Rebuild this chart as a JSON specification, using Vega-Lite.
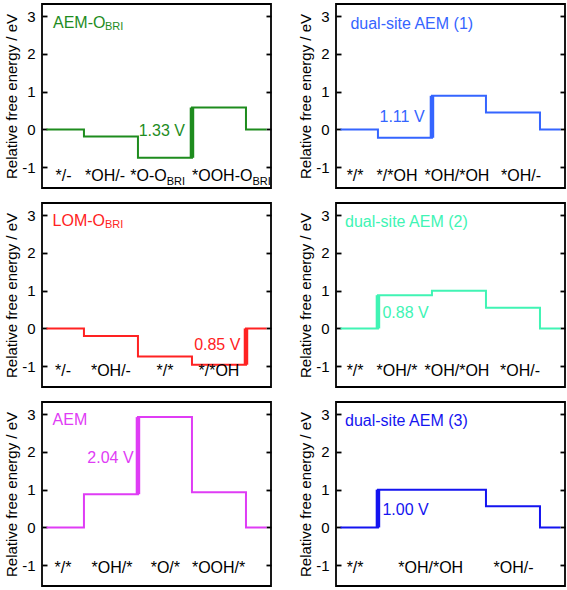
{
"$schema": "https://vega.github.io/schema/vega-lite/v6.json",
"padding": {"left": 3, "top": 3, "right": 3, "bottom": 3},
"background": "white",
"data": {"values": [
{"p":1,"k":"line","x":0.25,"y":0},{"p":1,"k":"line","x":2.33,"y":-0.19},{"p":1,"k":"line","x":5.33,"y":-0.75},{"p":1,"k":"line","x":8.33,"y":0.58},{"p":1,"k":"line","x":11.33,"y":0},{"p":1,"k":"line","x":12.47,"y":0},
{"p":1,"k":"thick","x":8.33,"y":-0.75,"y2":0.58},
{"p":1,"k":"title","x":0.61,"y":2.83,"t":"AEM-O"},{"p":1,"k":"tsub","x":3.5,"y":2.72,"t":"BRI"},
{"p":1,"k":"voltR","x":7.94,"y":-0.04,"t":"1.33 V"},
{"p":1,"k":"state","x":1.2,"y":-1.36,"t":"*/-"},{"p":1,"k":"state","x":3.5,"y":-1.36,"t":"*OH/-"},
{"p":1,"k":"stateL","x":4.9,"y":-1.36,"t":"*O-O"},{"p":1,"k":"ssub","x":6.93,"y":-1.47,"t":"BRI"},
{"p":1,"k":"stateL","x":8.33,"y":-1.36,"t":"*OOH-O"},{"p":1,"k":"ssub","x":11.69,"y":-1.47,"t":"BRI"},

{"p":2,"k":"line","x":0.25,"y":0},{"p":2,"k":"line","x":2.33,"y":-0.22},{"p":2,"k":"line","x":5.33,"y":0.89},{"p":2,"k":"line","x":8.33,"y":0.45},{"p":2,"k":"line","x":11.33,"y":0},{"p":2,"k":"line","x":12.47,"y":0},
{"p":2,"k":"thick","x":5.33,"y":-0.22,"y2":0.89},
{"p":2,"k":"title","x":0.8,"y":2.79,"t":"dual-site AEM (1)"},
{"p":2,"k":"voltR","x":4.92,"y":0.34,"t":"1.11 V"},
{"p":2,"k":"state","x":1.06,"y":-1.36,"t":"*/*"},{"p":2,"k":"state","x":3.39,"y":-1.36,"t":"*/*OH"},{"p":2,"k":"state","x":6.72,"y":-1.36,"t":"*OH/*OH"},{"p":2,"k":"state","x":10.28,"y":-1.36,"t":"*OH/-"},

{"p":3,"k":"line","x":0.25,"y":0},{"p":3,"k":"line","x":2.33,"y":-0.2},{"p":3,"k":"line","x":5.33,"y":-0.74},{"p":3,"k":"line","x":8.33,"y":-0.96},{"p":3,"k":"line","x":11.33,"y":0},{"p":3,"k":"line","x":12.47,"y":0},
{"p":3,"k":"thick","x":11.33,"y":-0.96,"y2":0},
{"p":3,"k":"title","x":0.59,"y":2.84,"t":"LOM-O"},{"p":3,"k":"tsub","x":3.5,"y":2.74,"t":"BRI"},
{"p":3,"k":"voltR","x":11.02,"y":-0.44,"t":"0.85 V"},
{"p":3,"k":"state","x":1.17,"y":-1.26,"t":"*/-"},{"p":3,"k":"state","x":3.83,"y":-1.26,"t":"*OH/-"},{"p":3,"k":"state","x":6.83,"y":-1.26,"t":"*/*"},{"p":3,"k":"state","x":9.83,"y":-1.26,"t":"*/*OH"},

{"p":4,"k":"line","x":0.25,"y":0},{"p":4,"k":"line","x":2.33,"y":0.88},{"p":4,"k":"line","x":5.33,"y":1.0},{"p":4,"k":"line","x":8.33,"y":0.55},{"p":4,"k":"line","x":11.33,"y":0},{"p":4,"k":"line","x":12.47,"y":0},
{"p":4,"k":"thick","x":2.33,"y":0,"y2":0.88},
{"p":4,"k":"title","x":0.5,"y":2.81,"t":"dual-site AEM (2)"},
{"p":4,"k":"voltL","x":2.58,"y":0.4,"t":"0.88 V"},
{"p":4,"k":"state","x":1.06,"y":-1.26,"t":"*/*"},{"p":4,"k":"state","x":3.39,"y":-1.26,"t":"*OH/*"},{"p":4,"k":"state","x":6.72,"y":-1.26,"t":"*OH/*OH"},{"p":4,"k":"state","x":10.22,"y":-1.26,"t":"*OH/-"},

{"p":5,"k":"line","x":0.25,"y":0},{"p":5,"k":"line","x":2.33,"y":0.88},{"p":5,"k":"line","x":5.33,"y":2.92},{"p":5,"k":"line","x":8.33,"y":0.93},{"p":5,"k":"line","x":11.33,"y":0},{"p":5,"k":"line","x":12.47,"y":0},
{"p":5,"k":"thick","x":5.33,"y":0.88,"y2":2.92},
{"p":5,"k":"title","x":0.59,"y":2.84,"t":"AEM"},
{"p":5,"k":"voltR","x":5.09,"y":1.85,"t":"2.04 V"},
{"p":5,"k":"state","x":1.17,"y":-1.2,"t":"*/*"},{"p":5,"k":"state","x":3.89,"y":-1.2,"t":"*OH/*"},{"p":5,"k":"state","x":6.85,"y":-1.2,"t":"*O/*"},{"p":5,"k":"state","x":9.81,"y":-1.2,"t":"*OOH/*"},

{"p":6,"k":"line","x":0.25,"y":0},{"p":6,"k":"line","x":2.33,"y":1.0},{"p":6,"k":"line","x":8.33,"y":0.56},{"p":6,"k":"line","x":11.33,"y":0},{"p":6,"k":"line","x":12.47,"y":0},
{"p":6,"k":"thick","x":2.33,"y":0,"y2":1.0},
{"p":6,"k":"title","x":0.5,"y":2.82,"t":"dual-site AEM (3)"},
{"p":6,"k":"voltL","x":2.58,"y":0.46,"t":"1.00 V"},
{"p":6,"k":"state","x":1.06,"y":-1.2,"t":"*/*"},{"p":6,"k":"state","x":5.26,"y":-1.2,"t":"*OH/*OH"},{"p":6,"k":"state","x":9.86,"y":-1.2,"t":"*OH/-"}
]},
"facet": {"field": "p", "type": "ordinal", "header": {"labels": false, "title": null, "labelPadding": 0, "labelFontSize": 0, "labelExpr": "''"}},
"columns": 2,
"spacing": {"row": 15, "column": 65},
"bounds": "flush",
"resolve": {"axis": {"y": "independent"}},
"spec": {
  "width": 229,
  "height": 184,
  "layer": [
    {
      "transform": [{"filter": "datum.k == 'line'"}],
      "mark": {"type": "line", "interpolate": "step-after", "strokeWidth": 2},
      "encoding": {
        "x": {"field": "x", "type": "quantitative", "scale": {"domain": [0, 12.72], "nice": false, "zero": false}},
        "y": {"field": "y", "type": "quantitative", "scale": {"domain": [-1.55, 3.32], "nice": false, "zero": false},
              "axis": {"orient": "left", "values": [-1, 0, 1, 2, 3], "labelExpr": "'' + datum.value", "tickSize": -5, "tickWidth": 1.8, "tickColor": "black", "labelPadding": 12, "labelFontSize": 15, "labelColor": "black", "domain": false, "grid": false, "title": "Relative free energy / eV", "titleFontSize": 15, "titleFontWeight": "normal", "titleColor": "black", "titlePadding": 2}},
        "color": {"field": "p", "type": "nominal", "scale": {"domain": [1, 2, 3, 4, 5, 6], "range": ["#1e8c1e", "#3565ff", "#ff2222", "#40f4b4", "#df3cf5", "#1414f0"]}, "legend": null}
      }
    },
    {
      "transform": [{"filter": "datum.k == 'thick'"}],
      "mark": {"type": "rule", "strokeWidth": 4.5},
      "encoding": {
        "x": {"field": "x", "type": "quantitative"},
        "y": {"field": "y", "type": "quantitative", "axis": {"orient": "right", "values": [-1, 0, 1, 2, 3], "labels": false, "title": null, "tickSize": -5, "tickWidth": 1.8, "tickColor": "black", "domain": false, "grid": false}},
        "y2": {"field": "y2"},
        "color": {"field": "p", "type": "nominal", "legend": null}
      }
    },
    {
      "transform": [{"filter": "datum.k == 'title'"}],
      "mark": {"type": "text", "align": "left", "baseline": "middle", "fontSize": 16},
      "encoding": {
        "x": {"field": "x", "type": "quantitative"},
        "y": {"field": "y", "type": "quantitative", "axis": null},
        "text": {"field": "t"},
        "color": {"field": "p", "type": "nominal", "legend": null}
      }
    },
    {
      "transform": [{"filter": "datum.k == 'tsub'"}],
      "mark": {"type": "text", "align": "left", "baseline": "middle", "fontSize": 11},
      "encoding": {
        "x": {"field": "x", "type": "quantitative"},
        "y": {"field": "y", "type": "quantitative", "axis": null},
        "text": {"field": "t"},
        "color": {"field": "p", "type": "nominal", "legend": null}
      }
    },
    {
      "transform": [{"filter": "datum.k == 'voltR'"}],
      "mark": {"type": "text", "align": "right", "baseline": "middle", "fontSize": 16},
      "encoding": {
        "x": {"field": "x", "type": "quantitative"},
        "y": {"field": "y", "type": "quantitative", "axis": null},
        "text": {"field": "t"},
        "color": {"field": "p", "type": "nominal", "legend": null}
      }
    },
    {
      "transform": [{"filter": "datum.k == 'voltL'"}],
      "mark": {"type": "text", "align": "left", "baseline": "middle", "fontSize": 16},
      "encoding": {
        "x": {"field": "x", "type": "quantitative"},
        "y": {"field": "y", "type": "quantitative", "axis": null},
        "text": {"field": "t"},
        "color": {"field": "p", "type": "nominal", "legend": null}
      }
    },
    {
      "transform": [{"filter": "datum.k == 'state'"}],
      "mark": {"type": "text", "align": "center", "baseline": "alphabetic", "fontSize": 16, "color": "black"},
      "encoding": {
        "x": {"field": "x", "type": "quantitative"},
        "y": {"field": "y", "type": "quantitative", "axis": null},
        "text": {"field": "t"}
      }
    },
    {
      "transform": [{"filter": "datum.k == 'stateL'"}],
      "mark": {"type": "text", "align": "left", "baseline": "alphabetic", "fontSize": 16, "color": "black"},
      "encoding": {
        "x": {"field": "x", "type": "quantitative"},
        "y": {"field": "y", "type": "quantitative", "axis": null},
        "text": {"field": "t"}
      }
    },
    {
      "transform": [{"filter": "datum.k == 'ssub'"}],
      "mark": {"type": "text", "align": "left", "baseline": "alphabetic", "fontSize": 11, "color": "black"},
      "encoding": {
        "x": {"field": "x", "type": "quantitative"},
        "y": {"field": "y", "type": "quantitative", "axis": null},
        "text": {"field": "t"}
      }
    }
  ]
},
"config": {
  "font": "Liberation Sans",
  "view": {"stroke": "black", "strokeWidth": 1.8},
  "axisX": {"disable": true},
  "header": {"labels": false, "title": null, "labelPadding": 0, "labelFontSize": 0},
  "headerFacet": {"labels": false, "title": null, "labelPadding": 0, "labelFontSize": 0}
}
}
